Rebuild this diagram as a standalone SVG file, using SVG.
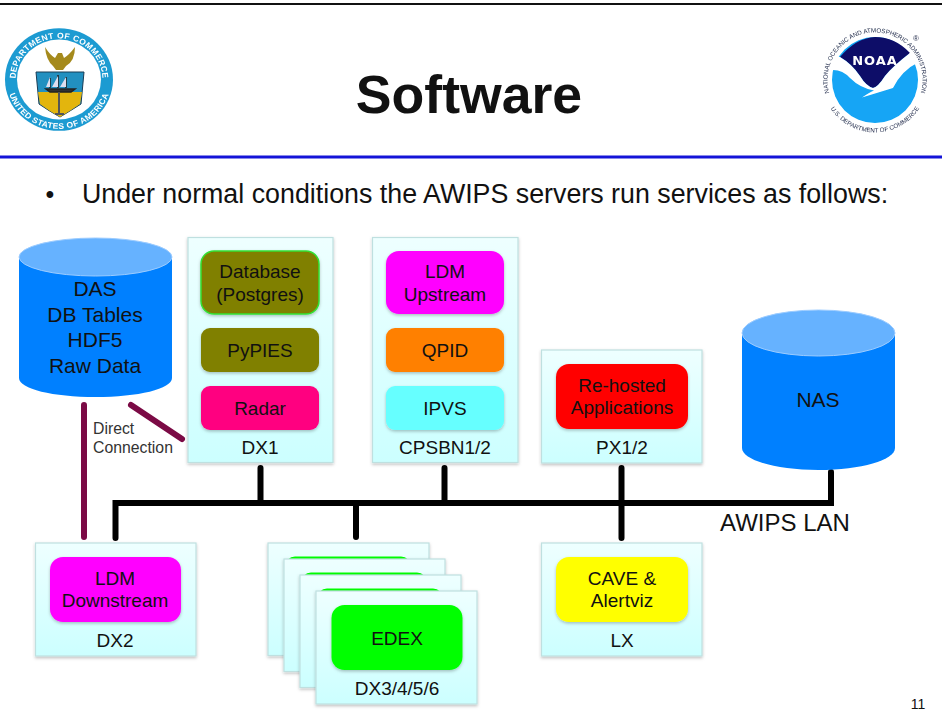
<svg xmlns="http://www.w3.org/2000/svg" width="942" height="722" viewBox="0 0 942 722">
<style>
text{font-family:"Liberation Sans",Arial,sans-serif;fill:#111;text-anchor:middle}
.t{font-size:19px}
.d{font-size:21px}
.c{fill:url(#card);stroke:#bfe0e0;stroke-width:1.2;filter:url(#sh)}
.b{filter:url(#sh)}
.k{fill:none;stroke:#000;stroke-width:6;stroke-linecap:round}
.m{fill:none;stroke:#7b0a45;stroke-width:6;stroke-linecap:round}
.seal{font-size:8.500px;font-weight:bold;fill:#fff;letter-spacing:.4px}
.noaa{font-size:6.200px;fill:#26304f}
</style>
<defs>
<linearGradient id="card" x1="0" y1="0" x2="0" y2="1"><stop offset="0" stop-color="#eeffff"/><stop offset="1" stop-color="#ccffff"/></linearGradient>
<filter id="sh" x="-10%" y="-10%" width="120%" height="120%"><feDropShadow dx="0" dy="1.500" stdDeviation="1.500" flood-color="#000" flood-opacity=".25"/></filter>
<filter id="soft"><feGaussianBlur stdDeviation=".35"/></filter>
<path id="arcT" d="M18.100 94.900A43.500 43.500 0 1 1 99.900 94.900"/>
<path id="arcB" d="M7 80A52 52 0 0 0 111 80"/>
<path id="nT" d="M833.900 103.750A47.500 47.500 0 1 1 916.100 103.750"/>
<path id="nB" d="M828 104A53 53 0 0 0 922 104"/>
</defs>
<rect width="942" height="722" fill="#fff"/>
<rect x="0" y="3" width="942" height="2" fill="#111"/>
<rect x="0" y="155.500" width="942" height="3" fill="#1414d8"/>
<g id="seal-commerce" filter="url(#soft)">
<g transform="translate(59 79.500) scale(1 .95) translate(-59 -80)">
<circle cx="59" cy="80" r="54" fill="#1f9bd2"/><circle cx="59" cy="80" r="42" fill="#fff"/>
<text class="seal"><textPath href="#arcT" startOffset="50%">DEPARTMENT OF COMMERCE</textPath></text>
<text class="seal"><textPath href="#arcB" startOffset="50%">UNITED STATES OF AMERICA</textPath></text>
</g>
<path d="M45 47Q50 55 55 58L58 53L62 53L64 58Q69 55 75 47Q75 61 66 66L63 70H56L53 66Q46 60 45 47Z" fill="#a58a1f"/>
<path d="M36 72H84L81 104Q70 111 60 117Q49 111 39 104Z" fill="#2390c0" stroke="#1a3c55"/>
<path d="M38 92H82L80 104Q70 111 60 117Q49 111 40 104Z" fill="#e3b50c"/>
<path d="M46 89H75L71 92H50ZM50 88V78M58 88V75M66 88V77" stroke="#222" stroke-width="1.500" fill="#333"/>
<path d="M46 87L50 77L50 87ZM52 87L58 76V87ZM60 87L66 77V87Z" fill="#dde"/>
<path d="M59 92V114M55 114H64" stroke="#555" stroke-width="2" fill="none"/>
</g>
<g id="seal-noaa" filter="url(#soft)">
<circle cx="875" cy="80" r="43" fill="#12a5f5"/>
<path d="M840 57Q856 38 875 37Q895 37 910 53Q893 66 885 76Q878 87 873 88Q866 86 860 76Q852 64 840 57Z" fill="#0e0e68"/>
<path d="M830 62Q836 56 840 57Q852 64 860 76Q866 86 873 88Q878 87 885 76Q893 66 910 53L919 62Q902 70 893 88Q880 92 862 97.500Q870 92 874 90.500Q860 88 850 78Q842 69 831 70Z" fill="#fff"/>
<text x="875" y="65" style="font-size:13px;font-weight:bold;fill:#fff;letter-spacing:1px;font-family:'DejaVu Sans',sans-serif">NOAA</text>
<text class="noaa"><textPath href="#nT" startOffset="50%">NATIONAL OCEANIC AND ATMOSPHERIC ADMINISTRATION</textPath></text>
<text class="noaa"><textPath href="#nB" startOffset="50%">U.S. DEPARTMENT OF COMMERCE</textPath></text>
<text x="916" y="41" style="font-size:8px;fill:#26304f">®</text>
</g>
<text x="469" y="113" style="font-size:53.600px;font-weight:bold">Software</text>
<text x="50" y="203" style="font-size:25px">•</text>
<text x="485" y="203" style="font-size:26.800px">Under normal conditions the AWIPS servers run services as follows:</text>
<g id="connectors">
<path class="k" d="M115.500 538V503H831V472M260.500 468V503M444.500 468V503M621.500 468V538M356 503V537"/>
<path class="m" d="M84 405V537M131 405L182 439"/>
</g>
<g id="das">
<path d="M19 257V378C19 389 53 397 95.500 397S172 389 172 378V257Z" fill="#0080ff"/>
<ellipse cx="95.500" cy="257" rx="76.500" ry="19" fill="#66b2ff" stroke="#9cccff"/>
<text class="d" x="95" y="296">DAS</text><text class="d" x="95" y="322">DB Tables</text><text class="d" x="95" y="347">HDF5</text><text class="d" x="95" y="373">Raw Data</text>
</g>
<g id="direct-label"><text x="93" y="434" style="font-size:15.800px;text-anchor:start;fill:#333">Direct</text><text x="93" y="453" style="font-size:15.800px;text-anchor:start;fill:#333">Connection</text></g>
<g id="dx1">
<rect class="c" x="188" y="237.500" width="145" height="225"/>
<rect class="b" x="201" y="251" width="118" height="63" rx="13" fill="#808000" stroke="#33e033" stroke-width="1.500"/>
<rect class="b" x="201" y="328" width="118" height="44" rx="9" fill="#808000"/>
<rect class="b" x="201" y="386" width="118" height="44" rx="9" fill="#ff0080"/>
<text class="t" x="260" y="278">Database</text><text class="t" x="260" y="301">(Postgres)</text><text class="t" x="260" y="357">PyPIES</text><text class="t" x="260" y="415">Radar</text><text class="t" x="260" y="454">DX1</text>
</g>
<g id="cpsbn">
<rect class="c" x="372.500" y="237.500" width="145.500" height="225"/>
<rect class="b" x="386" y="251" width="118" height="63" rx="13" fill="#ff00ff"/>
<rect class="b" x="386" y="328" width="118" height="44" rx="9" fill="#ff8000"/>
<rect class="b" x="386" y="386" width="118" height="44" rx="9" fill="#66ffff"/>
<text class="t" x="445" y="278">LDM</text><text class="t" x="445" y="301">Upstream</text><text class="t" x="445" y="357">QPID</text><text class="t" x="445" y="415">IPVS</text><text class="t" x="445" y="454">CPSBN1/2</text>
</g>
<g id="px">
<rect class="c" x="541.500" y="350" width="160.500" height="113"/>
<rect class="b" x="556" y="364" width="132" height="65" rx="13" fill="#ff0000"/>
<text class="t" x="622" y="392">Re-hosted</text><text class="t" x="622" y="414">Applications</text><text class="t" x="622" y="454">PX1/2</text>
</g>
<g id="nas">
<path d="M742 333V448C742 460 776 470 818.500 470S895 460 895 448V333Z" fill="#0080ff"/>
<ellipse cx="818.500" cy="333" rx="76.500" ry="23" fill="#66b2ff" stroke="#9cccff"/>
<text class="d" x="818" y="407">NAS</text>
</g>
<g id="lan-label"><text x="785" y="531" style="font-size:24px">AWIPS LAN</text></g>
<g id="dx2">
<rect class="c" x="35.500" y="543" width="160.500" height="113"/>
<rect class="b" x="50" y="557" width="131" height="65" rx="13" fill="#ff00ff"/>
<text class="t" x="115" y="585">LDM</text><text class="t" x="115" y="607">Downstream</text><text class="t" x="115" y="647">DX2</text>
</g>
<g id="edex">
<rect class="c" x="268" y="543" width="161" height="112.500"/>
<rect x="285" y="556.500" width="126" height="50" rx="10" fill="#00ff00"/>
<rect class="c" x="284" y="559" width="161" height="112.500"/>
<rect x="301" y="572.500" width="126" height="50" rx="10" fill="#00ff00"/>
<rect class="c" x="300" y="575" width="161" height="112.500"/>
<rect x="317" y="588.500" width="126" height="50" rx="10" fill="#00ff00"/>
<rect class="c" x="316" y="591" width="161" height="113"/>
<rect class="b" x="331.500" y="605" width="131" height="65" rx="13" fill="#00ff00"/>
<text class="t" x="397" y="645">EDEX</text><text class="t" x="397" y="695">DX3/4/5/6</text>
</g>
<g id="lx">
<rect class="c" x="541.500" y="543" width="160.500" height="113"/>
<rect class="b" x="556" y="557" width="132" height="65" rx="13" fill="#ffff00"/>
<text class="t" x="622" y="585">CAVE &amp;</text><text class="t" x="622" y="607">Alertviz</text><text class="t" x="622" y="647">LX</text>
</g>
<text x="918" y="709" style="font-size:14px">11</text>
</svg>
